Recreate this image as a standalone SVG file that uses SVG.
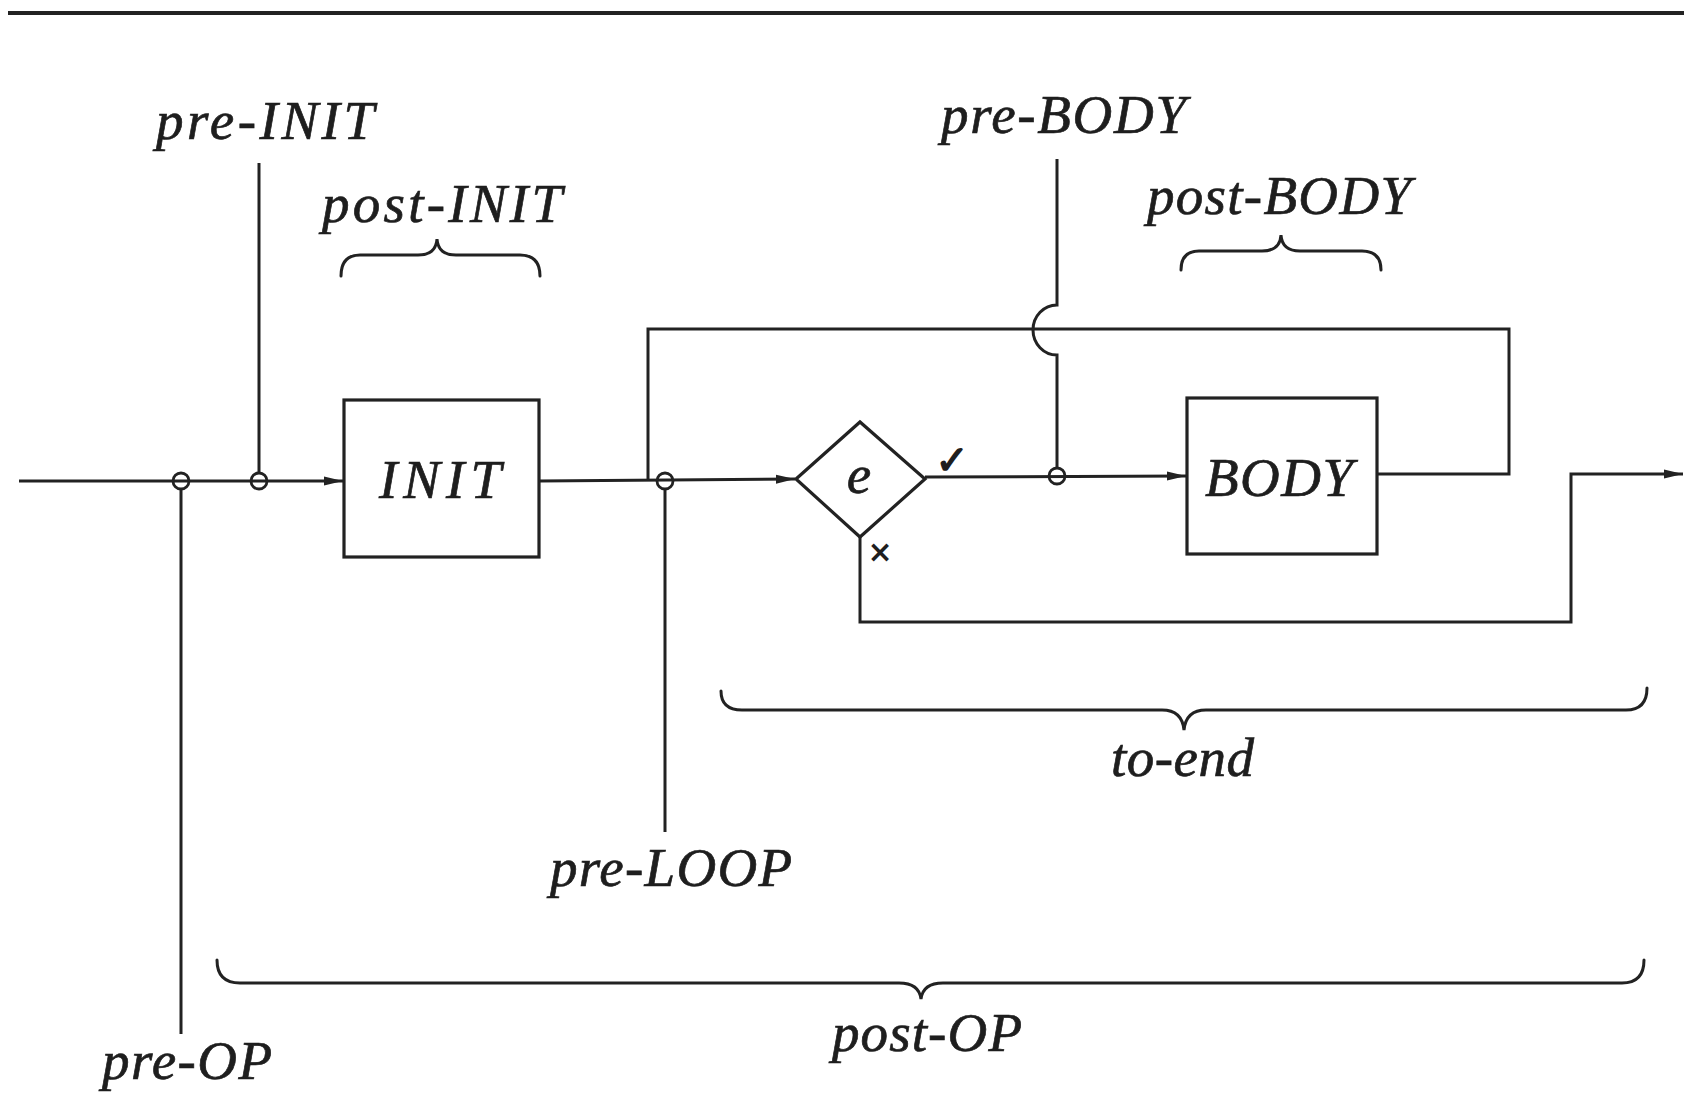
<svg xmlns="http://www.w3.org/2000/svg" width="1684" height="1095" viewBox="0 0 1684 1095">
  <defs>
    <style>
      .ln { fill: none; stroke: #222; stroke-width: 3; stroke-linejoin: miter; }
      .box { fill: none; stroke: #222; stroke-width: 3.2; }
      .tap { fill: none; stroke: #222; stroke-width: 2.8; }
      .brace { fill: none; stroke: #222; stroke-width: 3; stroke-linecap: round; }
      .lbl { font-family: "Liberation Serif", "Times New Roman", serif; font-style: italic; font-size: 55px; fill: #1e1e1e; stroke: #1e1e1e; stroke-width: 0.7; }
      .mark { font-family: "DejaVu Sans", sans-serif; fill: #1e1e1e; }
    </style>
    <marker id="arr" markerWidth="20" markerHeight="12" refX="19" refY="6" orient="auto" markerUnits="userSpaceOnUse">
      <path d="M0,1.5 L19,6 L0,10.5 Z" fill="#222"/>
    </marker>
  </defs>

  <rect width="1684" height="1095" fill="#fff"/>

  <!-- header rule -->
  <line x1="8" y1="13" x2="1684" y2="13" stroke="#222" stroke-width="4"/>

  <!-- connectors -->
  <g id="connectors">
    <!-- entry into INIT -->
    <line class="ln" x1="19" y1="481" x2="343" y2="481" marker-end="url(#arr)"/>
    <!-- INIT to test e -->
    <line class="ln" x1="539" y1="481" x2="795" y2="479" marker-end="url(#arr)"/>
    <!-- test true branch to BODY -->
    <line class="ln" x1="925" y1="477" x2="1186" y2="476" marker-end="url(#arr)"/>
    <!-- BODY back to loop head -->
    <path class="ln" d="M1377,474 L1509,474 L1509,329 L648,329 L648,481"/>
    <!-- test false branch to exit -->
    <path class="ln" d="M860,537 L860,622 L1571,622 L1571,474 L1683,474" marker-end="url(#arr)"/>
    <!-- tap lines -->
    <line class="ln" x1="259" y1="163" x2="259" y2="473"/>
    <line class="ln" x1="181" y1="489" x2="181" y2="1034"/>
    <line class="ln" x1="665" y1="489" x2="665" y2="832"/>
    <path class="ln" d="M1057,159 L1057,305 A24,25 0 0 0 1057,355 L1057,468"/>
  </g>

  <!-- tap points -->
  <g id="tap-pre-OP"><circle class="tap" cx="181" cy="481" r="8"/></g>
  <g id="tap-pre-INIT"><circle class="tap" cx="259" cy="481" r="8"/></g>
  <g id="tap-pre-LOOP"><circle class="tap" cx="665" cy="481" r="8"/></g>
  <g id="tap-pre-BODY"><circle class="tap" cx="1057" cy="476" r="8"/></g>

  <!-- INIT block -->
  <g id="node-INIT">
    <rect class="box" x="344" y="400" width="195" height="157"/>
    <text class="lbl" x="379" y="498" font-size="57" textLength="122" lengthAdjust="spacing">INIT</text>
  </g>

  <!-- loop test -->
  <g id="node-e">
    <polygon class="box" points="796,479 860,422 925,479 860,537"/>
    <text class="lbl" x="859" y="493" font-size="58" text-anchor="middle">e</text>
    <text class="mark" x="952" y="474" font-size="40" text-anchor="middle" stroke="#1e1e1e" stroke-width="1.4">✓</text>
    <text class="mark" x="880" y="562" font-size="30" font-weight="bold" text-anchor="middle">×</text>
  </g>

  <!-- BODY block -->
  <g id="node-BODY">
    <rect class="box" x="1187" y="398" width="190" height="156"/>
    <text class="lbl" x="1205" y="496" textLength="148" lengthAdjust="spacing">BODY</text>
  </g>

  <!-- labels -->
  <g id="label-pre-INIT"><text class="lbl" x="156" y="139" textLength="218" lengthAdjust="spacing">pre-INIT</text></g>
  <g id="label-post-INIT">
    <text class="lbl" x="322" y="222" textLength="240" lengthAdjust="spacing">post-INIT</text>
    <path class="brace" d="M341,276 Q341,255 360,255 L418,255 Q436,255 437,239 Q438,255 456,255 L520,255 Q540,255 540,276"/>
  </g>
  <g id="label-pre-BODY"><text class="lbl" x="941" y="133" textLength="245" lengthAdjust="spacing">pre-BODY</text></g>
  <g id="label-post-BODY">
    <text class="lbl" x="1147" y="214" textLength="264" lengthAdjust="spacing">post-BODY</text>
    <path class="brace" d="M1181,270 Q1181,251 1199,251 L1262,251 Q1280,251 1281,235 Q1282,251 1300,251 L1362,251 Q1381,251 1381,270"/>
  </g>
  <g id="label-pre-LOOP"><text class="lbl" x="550" y="886" textLength="242" lengthAdjust="spacing">pre-LOOP</text></g>
  <g id="label-to-end">
    <path class="brace" d="M721,691 Q721,710 742,710 L1162,710 Q1182,710 1184,730 Q1186,710 1206,710 L1626,710 Q1647,710 1647,688"/>
    <text class="lbl" x="1111" y="776" textLength="143" lengthAdjust="spacing">to-end</text>
  </g>
  <g id="label-pre-OP"><text class="lbl" x="102" y="1079" textLength="170" lengthAdjust="spacing">pre-OP</text></g>
  <g id="label-post-OP">
    <path class="brace" d="M217,960 Q217,983 240,983 L899,983 Q919,983 921,999 Q923,983 943,983 L1622,983 Q1644,983 1644,960"/>
    <text class="lbl" x="832" y="1051" textLength="190" lengthAdjust="spacing">post-OP</text>
  </g>
</svg>
